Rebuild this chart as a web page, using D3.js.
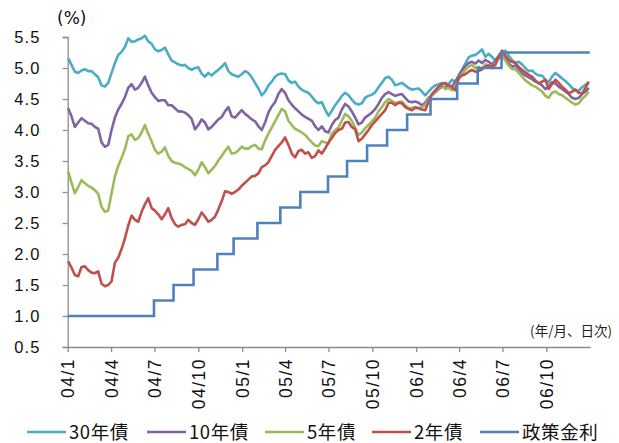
<!DOCTYPE html>
<html>
<head>
<meta charset="utf-8">
<script src="https://cdn.jsdelivr.net/npm/d3@7"></script>
<style>
  html, body { margin: 0; padding: 0; background: #fff; }
  svg { display: block; font-family: "DejaVu Sans", "Noto Sans CJK JP", sans-serif; }
</style>
</head>
<body>
<svg id="chart" width="619" height="443"></svg>
<script>
// Weekly closing yields (%), first week of Jan 2004 through last week of Dec 2006
const yield30 = [
  5.16,5.05,4.94,4.92,4.96,4.98,4.95,4.95,4.90,4.85,
  4.72,4.70,4.76,4.92,5.08,5.21,5.26,5.34,5.48,5.42,
  5.43,5.46,5.48,5.52,5.43,5.39,5.30,5.27,5.29,5.33,
  5.22,5.12,5.09,5.06,5.04,5.05,5.00,4.97,5.00,5.01,
  4.91,4.86,4.92,4.88,4.93,4.97,5.02,5.08,4.95,4.90,
  4.88,4.86,4.90,4.95,4.92,4.85,4.76,4.67,4.56,4.62,
  4.72,4.78,4.86,4.90,4.91,4.90,4.80,4.76,4.78,4.70,
  4.65,4.62,4.60,4.54,4.47,4.43,4.45,4.33,4.23,4.31,
  4.40,4.47,4.55,4.60,4.56,4.49,4.43,4.41,4.43,4.52,
  4.55,4.57,4.61,4.69,4.76,4.84,4.86,4.81,4.72,4.74,
  4.76,4.72,4.68,4.65,4.66,4.67,4.62,4.56,4.62,4.68,
  4.72,4.74,4.76,4.74,4.74,4.81,4.78,4.88,4.97,5.07,
  5.17,5.20,5.21,5.25,5.30,5.18,5.23,5.18,5.12,5.20,
  5.26,5.28,5.20,5.13,5.08,5.10,5.06,5.00,4.95,4.96,
  4.91,4.88,4.88,4.81,4.77,4.86,4.92,4.88,4.83,4.79,
  4.74,4.68,4.64,4.63,4.69,4.73,4.77
];
const yield10 = [
  4.35,4.22,4.05,4.12,4.19,4.15,4.11,4.10,4.05,4.02,
  3.80,3.73,3.76,4.00,4.20,4.33,4.42,4.53,4.68,4.74,
  4.65,4.68,4.76,4.86,4.72,4.60,4.53,4.47,4.48,4.48,
  4.40,4.40,4.35,4.30,4.30,4.28,4.24,4.18,4.01,4.08,
  4.17,4.12,4.01,4.05,4.11,4.17,4.21,4.30,4.37,4.22,
  4.20,4.26,4.32,4.26,4.22,4.17,4.14,4.06,4.00,4.12,
  4.28,4.38,4.45,4.58,4.66,4.60,4.48,4.41,4.35,4.30,
  4.25,4.21,4.18,4.15,4.06,4.00,4.06,3.98,3.96,4.08,
  4.16,4.20,4.33,4.42,4.38,4.30,4.20,4.09,4.12,4.20,
  4.24,4.28,4.34,4.42,4.52,4.58,4.61,4.58,4.55,4.57,
  4.58,4.52,4.46,4.45,4.46,4.44,4.40,4.44,4.52,4.56,
  4.61,4.66,4.70,4.69,4.72,4.70,4.78,4.86,4.96,5.03,
  5.08,5.10,5.07,5.12,5.08,5.13,5.10,5.06,5.12,5.18,
  5.22,5.15,5.08,5.02,5.04,4.98,4.92,4.88,4.85,4.82,
  4.78,4.76,4.72,4.66,4.70,4.77,4.75,4.70,4.66,4.62,
  4.58,4.52,4.50,4.52,4.58,4.62,4.68
];
const yield5 = [
  3.33,3.15,2.98,3.08,3.19,3.14,3.10,3.07,3.03,2.97,
  2.76,2.68,2.70,2.98,3.25,3.42,3.55,3.69,3.90,3.93,
  3.84,3.87,3.96,4.08,3.94,3.82,3.68,3.62,3.65,3.72,
  3.58,3.50,3.47,3.46,3.44,3.40,3.37,3.34,3.27,3.36,
  3.48,3.40,3.30,3.36,3.42,3.51,3.58,3.66,3.73,3.62,
  3.63,3.67,3.73,3.70,3.70,3.74,3.76,3.70,3.69,3.83,
  3.94,4.04,4.14,4.24,4.34,4.30,4.15,4.08,4.02,3.99,
  3.96,3.92,3.86,3.80,3.75,3.74,3.82,3.80,3.78,3.94,
  4.00,4.04,4.15,4.26,4.22,4.15,4.04,3.92,3.96,4.03,
  4.08,4.14,4.20,4.30,4.37,4.45,4.50,4.47,4.43,4.45,
  4.46,4.40,4.35,4.36,4.37,4.35,4.37,4.40,4.50,4.56,
  4.62,4.68,4.72,4.66,4.68,4.64,4.70,4.82,4.90,4.97,
  5.02,5.05,5.00,5.02,4.98,5.06,5.04,5.00,5.08,5.15,
  5.20,5.12,5.04,4.98,4.98,4.92,4.86,4.80,4.76,4.72,
  4.70,4.66,4.62,4.55,4.52,4.60,4.62,4.58,4.56,4.52,
  4.48,4.44,4.41,4.43,4.50,4.55,4.62
];
const yield2 = [
  1.88,1.78,1.66,1.64,1.79,1.80,1.74,1.70,1.69,1.72,
  1.52,1.48,1.50,1.56,1.86,1.94,2.08,2.25,2.46,2.62,
  2.55,2.52,2.68,2.80,2.90,2.74,2.70,2.64,2.56,2.64,
  2.74,2.58,2.48,2.44,2.47,2.48,2.55,2.50,2.47,2.56,
  2.67,2.60,2.52,2.55,2.60,2.72,2.85,3.01,3.00,2.97,
  3.00,3.04,3.10,3.15,3.20,3.25,3.26,3.30,3.40,3.43,
  3.48,3.58,3.68,3.74,3.80,3.88,3.76,3.62,3.56,3.66,
  3.68,3.62,3.64,3.55,3.58,3.67,3.62,3.70,3.80,3.87,
  3.95,4.00,4.02,4.12,4.13,4.05,4.01,3.82,3.86,3.93,
  4.00,4.08,4.14,4.20,4.26,4.32,4.44,4.44,4.40,4.44,
  4.43,4.37,4.34,4.32,4.36,4.35,4.33,4.32,4.46,4.58,
  4.64,4.70,4.74,4.76,4.72,4.69,4.64,4.84,4.88,4.90,
  4.94,4.97,4.94,4.95,4.98,5.02,5.04,5.02,5.05,5.18,
  5.28,5.20,5.13,5.10,5.08,5.02,4.97,4.93,4.89,4.86,
  4.80,4.75,4.78,4.81,4.66,4.74,4.81,4.76,4.70,4.65,
  4.59,4.62,4.65,4.60,4.59,4.68,4.78
];

// Policy rate: effective dates of each change and the new target level
const policyDates = [
  "2004-01-01","2004-06-30","2004-08-10","2004-09-21","2004-11-10","2004-12-14",
  "2005-02-02","2005-03-22","2005-05-03","2005-06-30","2005-08-09","2005-09-20",
  "2005-11-01","2005-12-13","2006-01-31","2006-03-28","2006-05-10","2006-06-29","2006-12-31"
];
const policyRates = [
  1.00,1.25,1.50,1.75,2.00,2.25,
  2.50,2.75,3.00,3.25,3.50,3.75,
  4.00,4.25,4.50,4.75,5.00,5.25,5.25
];

const seriesNames = ["30年債", "10年債", "5年債", "2年債", "政策金利"];
const seriesColors = ["#4bacc6", "#8064a2", "#9bbb59", "#c0504d", "#4f81bd"];

const xTickDates = [
  "2004-01-01","2004-04-01","2004-07-01","2004-10-01",
  "2005-01-01","2005-04-01","2005-07-01","2005-10-01",
  "2006-01-01","2006-04-01","2006-07-01","2006-10-01"
];
const xTickLabels = ["04/1","04/4","04/7","04/10","05/1","05/4","05/7","05/10","06/1","06/4","06/7","06/10"];
const yTicks = [0.5, 1.0, 1.5, 2.0, 2.5, 3.0, 3.5, 4.0, 4.5, 5.0, 5.5];

const parse = d3.timeParse("%Y-%m-%d");
const weeks = d3.timeDay.range(new Date(2004, 0, 2), new Date(2006, 11, 30), 7);

const svg = d3.select("#chart");
const plot = { left: 67.7, right: 590.2, top: 37, bottom: 347 };

const x = d3.scaleTime()
  .domain([new Date(2004, 0, 1), new Date(2007, 0, 1)])
  .range([plot.left, plot.right]);
const y = d3.scaleLinear().domain([0.5, 5.5]).range([plot.bottom, plot.top]);

const axisColor = "#8c8c8c";

// y axis
const yAxis = svg.append("g")
  .attr("transform", `translate(${plot.left},0)`)
  .call(d3.axisLeft(y).tickValues(yTicks).tickFormat(d3.format(".1f")).tickSize(5).tickPadding(22));
yAxis.select(".domain").attr("stroke", axisColor).attr("stroke-width", 1.3);
yAxis.selectAll(".tick line").attr("stroke", axisColor).attr("stroke-width", 1.3);
yAxis.selectAll(".tick text")
  .attr("fill", "#111")
  .style("font-size", "16.5px")
  .style("letter-spacing", "1.2px");

// x axis
const tickDates = xTickDates.map(parse);
const xAxis = svg.append("g")
  .attr("transform", `translate(0,${plot.bottom})`)
  .call(d3.axisBottom(x).tickValues(tickDates)
    .tickFormat((d, i) => xTickLabels[i]).tickSize(5).tickSizeOuter(0));
xAxis.select(".domain").attr("stroke", axisColor).attr("stroke-width", 1.3);
xAxis.selectAll(".tick line").attr("stroke", axisColor).attr("stroke-width", 1.3);
xAxis.selectAll(".tick text")
  .attr("fill", "#111")
  .style("font-size", "17.5px")
  .style("letter-spacing", "1.5px")
  .attr("text-anchor", "end")
  .attr("dy", "0.35em")
  .attr("transform", "translate(0,11) rotate(-90)")
  .attr("x", 0)
  .attr("y", 0);

// axis captions
svg.append("text").attr("x", 57).attr("y", 24)
  .style("font-size", "17px").attr("fill", "#111").text("(%)");
svg.append("text").attr("x", 612).attr("y", 336).attr("text-anchor", "end")
  .style("font-size", "13.5px").attr("fill", "#222")
  .style("font-family", "'Noto Sans CJK JP', sans-serif")
  .text("(年/月、日次)");

// yield lines (drawn in series order so later ones sit on top)
const yieldSeries = [yield30, yield10, yield5, yield2];
const line = d3.line().x(d => x(d[0])).y(d => y(d[1]));
yieldSeries.forEach((vals, i) => {
  svg.append("path")
    .datum(vals.map((v, j) => [weeks[j], v]))
    .attr("fill", "none")
    .attr("stroke", seriesColors[i])
    .attr("stroke-width", 2.6)
    .attr("stroke-linejoin", "round")
    .attr("d", line);
});

// policy rate as a step line
const stepLine = d3.line().curve(d3.curveStepAfter).x(d => x(d[0])).y(d => y(d[1]));
svg.append("path")
  .datum(policyDates.map((d, i) => [parse(d), policyRates[i]]))
  .attr("fill", "none")
  .attr("stroke", seriesColors[4])
  .attr("stroke-width", 2.6)
  .attr("d", stepLine);

// legend
const legendLineX = [27, 147, 265, 372, 480];
const legendY = 432;
const legend = svg.append("g").style("font-family", "'Noto Sans CJK JP', sans-serif");
seriesNames.forEach((name, i) => {
  legend.append("line")
    .attr("x1", legendLineX[i]).attr("x2", legendLineX[i] + 39)
    .attr("y1", legendY).attr("y2", legendY)
    .attr("stroke", seriesColors[i]).attr("stroke-width", 2.6);
  legend.append("text")
    .attr("x", legendLineX[i] + 42).attr("y", legendY + 7)
    .style("font-size", "18.5px").attr("fill", "#111")
    .style("letter-spacing", "0.6px")
    .text(name);
});
</script>
</body>
</html>
